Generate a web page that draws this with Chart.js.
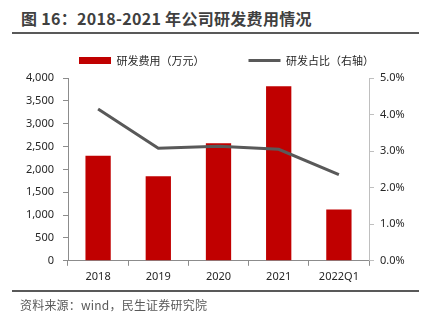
<!DOCTYPE html>
<html>
<head>
<meta charset="utf-8">
<script src="https://cdn.jsdelivr.net/npm/chart.js@4"></script>
<style>
  body { margin: 0; background: #fff; }
  #wrap { position: relative; width: 423px; height: 329px; overflow: hidden;
          font-family: "Noto Sans", "Noto Sans CJK SC", sans-serif; }
  #title { position: absolute; left: 21px; top: 6px; font-size: 16px; font-weight: bold;
           color: #404040; font-family: "Noto Sans CJK SC", sans-serif; letter-spacing: 0.3px; }
  .rule { position: absolute; left: 12px; width: 407px; height: 2px; background: #595959; }
  #source { position: absolute; left: 20px; top: 296px; font-size: 12px; color: #595959;
            font-family: "Noto Sans CJK SC", sans-serif; letter-spacing: 0.2px; }
  canvas { position: absolute; left: 0; top: 0; }
</style>
</head>
<body>
<div id="wrap">
  <div id="title">图 16：2018-2021 年公司研发费用情况</div>
  <div class="rule" style="top:32px"></div>
  <canvas id="c" width="423" height="329"></canvas>
  <div class="rule" style="top:290px"></div>
  <div id="source">资料来源：wind，民生证券研究院</div>
</div>
<script>
/* ---- data ---- */
var categories = ['2018', '2019', '2020', '2021', '2022Q1'];
var rdExpense = [2300, 1850, 2570, 3820, 1120];      // 万元
var rdRatio = [4.15, 3.08, 3.13, 3.05, 2.36];        // %
var leftTicks = [0, 500, 1000, 1500, 2000, 2500, 3000, 3500, 4000];
var rightTicks = [0, 1, 2, 3, 4, 5];

var textColor = '#262626';
var axisColor = '#8c8c8c';
var tickFont = { family: "'Noto Sans', sans-serif", size: 11 };

// nudge the legend so it sits where the original one does
var legendNudge = {
  id: 'legendNudge',
  afterLayout: function(chart) {
    var lg = chart.legend;
    lg.left += 15; lg.right += 15;
    lg.top -= 2; lg.bottom -= 2;
  }
};

new Chart(document.getElementById('c'), {
  type: 'bar',
  data: {
    labels: categories,
    datasets: [{
      type: 'line',
      label: '研发占比（右轴）',
      data: rdRatio,
      yAxisID: 'y1',
      borderColor: '#595959',
      backgroundColor: '#595959',
      borderWidth: 3,
      pointRadius: 0,
      pointStyle: 'line',
      tension: 0,
      order: 0
    }, {
      label: '研发费用（万元）',
      data: rdExpense,
      yAxisID: 'y',
      backgroundColor: '#c00000',
      pointStyle: 'rect',
      categoryPercentage: 1,
      barPercentage: 0.42,
      order: 1
    }]
  },
  plugins: [legendNudge],
  options: {
    responsive: false,
    animation: false,
    layout: { padding: { top: 13, left: 0, right: 0, bottom: 42 } },
    plugins: {
      legend: {
        reverse: true,
        labels: {
          usePointStyle: true,
          pointStyleWidth: 32,
          boxHeight: 7,
          padding: 44,
          color: textColor,
          font: { family: "'Noto Sans CJK SC', sans-serif", size: 11 }
        }
      },
      tooltip: { enabled: false }
    },
    scales: {
      x: {
        grid: { drawOnChartArea: false, color: axisColor, tickLength: 5, offset: true },
        border: { color: axisColor, width: 1 },
        ticks: { color: textColor, font: tickFont, padding: 4 }
      },
      y: {
        position: 'left',
        min: 0,
        max: 4000,
        afterBuildTicks: function(s) { s.ticks = leftTicks.map(function(v) { return { value: v }; }); },
        afterFit: function(s) { s.width = 68; },
        grid: { drawOnChartArea: false, color: axisColor, tickLength: 5 },
        border: { color: axisColor, width: 1 },
        ticks: {
          color: textColor, font: tickFont, padding: 9,
          callback: function(v) { return v.toLocaleString('en-US'); }
        }
      },
      y1: {
        position: 'right',
        min: 0,
        max: 5,
        afterBuildTicks: function(s) { s.ticks = rightTicks.map(function(v) { return { value: v }; }); },
        afterFit: function(s) { s.width = 54; },
        grid: { drawOnChartArea: false, color: '#bfbfbf', tickLength: 5 },
        border: { color: '#bfbfbf', width: 1 },
        ticks: {
          color: textColor, font: tickFont, padding: 6,
          callback: function(v) { return v.toFixed(1) + '%'; }
        }
      }
    }
  }
});
</script>
</body>
</html>
